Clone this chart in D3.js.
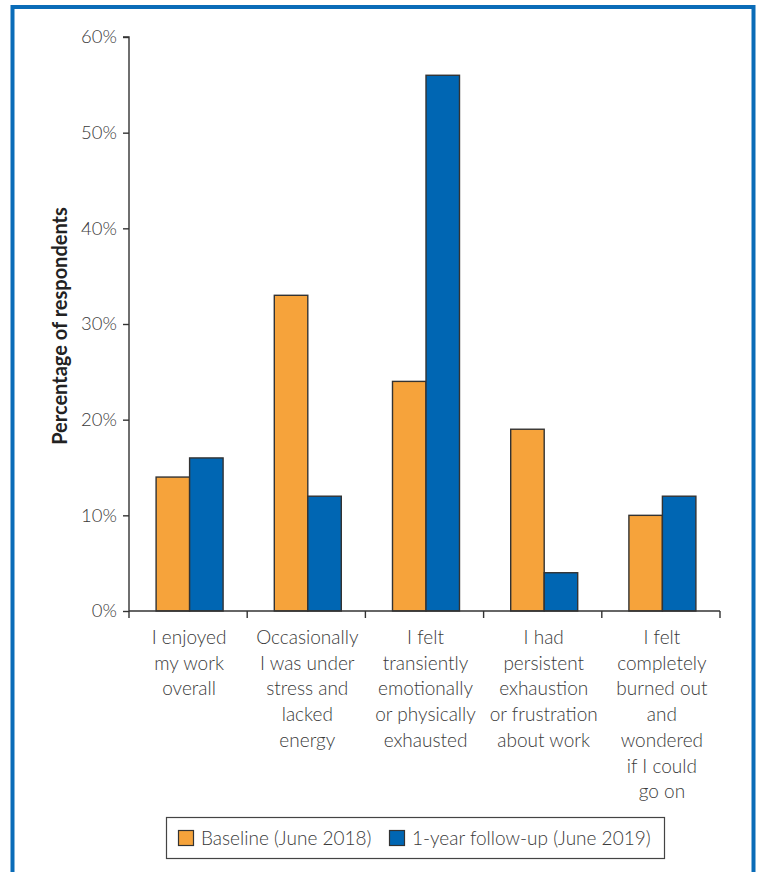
<!DOCTYPE html>
<html>
<head>
<meta charset="utf-8">
<script src="https://cdn.jsdelivr.net/npm/d3@7"></script>
<style>
  html, body { margin: 0; padding: 0; background: #fff; }
  svg text { font-family: Lato, "Open Sans", sans-serif; }
</style>
</head>
<body>
<svg id="chart" width="761" height="872"></svg>
<script>
// Survey responses about work wellbeing, two survey waves
const categories = [
  ["I enjoyed", "my work", "overall"],
  ["Occasionally", "I was under", "stress and", "lacked", "energy"],
  ["I felt", "transiently", "emotionally", "or physically", "exhausted"],
  ["I had", "persistent", "exhaustion", "or frustration", "about work"],
  ["I felt", "completely", "burned out", "and", "wondered", "if I could", "go on"]
];
const seriesNames = ["Baseline (June 2018)", "1-year follow-up (June 2019)"];
const baseline = [14, 33, 24, 19, 10];
const followUp = [16, 12, 56, 4, 12];
const yTicks = [0, 10, 20, 30, 40, 50, 60];
const colors = ["#F6A33B", "#0066B3"];

const svg = d3.select("#chart");

// Blue frame around the figure
svg.append("rect")
  .attr("x", 12.5).attr("y", 7).attr("width", 741).attr("height", 880)
  .attr("fill", "none").attr("stroke", "#0A6CB8").attr("stroke-width", 4);

const plotLeft = 129, plotRight = 720, plotTop = 37, plotBottom = 611;

const x = d3.scaleBand().domain(d3.range(categories.length)).range([plotLeft, plotRight]);
const y = d3.scaleLinear().domain([0, 60]).range([plotBottom, plotTop]);
const sub = d3.scaleBand().domain([0, 1]).range([0, 67]);

// Bars
const rows = categories.map((c, i) => [baseline[i], followUp[i]]);
const groups = svg.append("g").selectAll("g").data(rows).join("g")
  .attr("transform", (d, i) => `translate(${x(i) + x.bandwidth() / 2 - 32},0)`);
groups.selectAll("rect").data(d => d).join("rect")
  .attr("x", (d, j) => sub(j))
  .attr("y", d => y(d))
  .attr("width", sub.bandwidth())
  .attr("height", d => y(0) - y(d))
  .attr("fill", (d, j) => colors[j])
  .attr("stroke", "#333")
  .attr("stroke-width", 1.4);

// Y axis
const yAxis = svg.append("g").attr("transform", `translate(${plotLeft},0)`)
  .call(d3.axisLeft(y).tickValues(yTicks).tickFormat(d => d + "%").tickSize(6).tickPadding(6));
yAxis.select(".domain").attr("stroke", "#333").attr("stroke-width", 1.4).attr("d", `M-6,${plotTop}H0V${plotBottom}`);
yAxis.selectAll(".tick line").attr("stroke", "#333").attr("stroke-width", 1.4);
yAxis.selectAll(".tick text")
  .attr("font-size", 18.5).attr("font-weight", 300).attr("fill", "#3a3a3a");

// X axis baseline and category dividers
const xAxis = svg.append("g");
xAxis.append("line").attr("x1", plotLeft).attr("x2", plotRight).attr("y1", plotBottom).attr("y2", plotBottom)
  .attr("stroke", "#333").attr("stroke-width", 1.4);
const edges = d3.range(categories.length + 1).map(i => i < categories.length ? x(i) : plotRight);
xAxis.selectAll("line.div").data(edges).join("line").attr("class", "div")
  .attr("x1", d => d).attr("x2", d => d).attr("y1", plotBottom).attr("y2", plotBottom + 7)
  .attr("stroke", "#333").attr("stroke-width", 1.4);

// Category labels
svg.append("g").selectAll("text").data(categories).join("text")
  .attr("text-anchor", "middle")
  .attr("font-size", 19).attr("font-weight", 300).attr("fill", "#3a3a3a")
  .each(function (lines, i) {
    d3.select(this).selectAll("tspan").data(lines).join("tspan")
      .attr("x", x(i) + x.bandwidth() / 2 + 1)
      .attr("y", (l, k) => 644 + k * 25.7)
      .text(l => l);
  });

// Y axis title
svg.append("text")
  .attr("transform", `translate(67,${(plotTop + plotBottom) / 2 + 2}) rotate(-90)`)
  .attr("text-anchor", "middle")
  .attr("font-size", 20).attr("font-weight", 700).attr("fill", "#222")
  .text("Percentage of respondents");

// Legend
const legend = svg.append("g");
legend.append("rect").attr("x", 166.5).attr("y", 817.5).attr("width", 498).attr("height", 41)
  .attr("fill", "#fff").attr("stroke", "#444").attr("stroke-width", 1.2);
const legX = [178, 389];
seriesNames.forEach((name, j) => {
  legend.append("rect").attr("x", legX[j] + 0.5).attr("y", 830.5).attr("width", 15).attr("height", 15)
    .attr("fill", colors[j]).attr("stroke", "#333").attr("stroke-width", 1.2);
  legend.append("text").attr("x", legX[j] + 23).attr("y", 844.5)
    .attr("font-size", 19).attr("font-weight", 300).attr("fill", "#3a3a3a")
    .text(name);
});
</script>
</body>
</html>
